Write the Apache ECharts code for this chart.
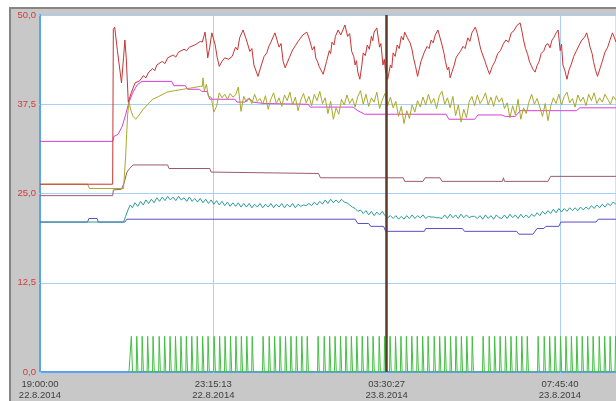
<!DOCTYPE html>
<html>
<head>
<meta charset="utf-8">
<script src="https://cdn.jsdelivr.net/npm/echarts@6/dist/echarts.min.js"></script>
<style>
  html, body { margin: 0; padding: 0; background: #fff; }
  #wrap { position: relative; width: 616px; height: 401px; overflow: hidden; background: #fff; }
  #frame { position: absolute; left: 9px; top: 7px; right: 0; bottom: 0; background: #c8c8c8;
           border-left: 2px solid #858585; border-top: 2px solid #858585; }
  #chart { position: absolute; left: 0; top: 0; width: 616px; height: 401px; }
</style>
</head>
<body>
<div id="wrap">
  <div id="frame"></div>
  <div id="chart"></div>
</div>
<script>
// time in minutes since 19:00:00 22.8.2014
const xStep = 15313.3333 / 60;   // one grid division = 4:15:13
const xMax = 848.2;
const xTickLabels = ['19:00:00\n22.8.2014', '23:15:13\n22.8.2014', '03:30:27\n23.8.2014', '07:45:40\n23.8.2014'];
const yTickLabels = ['0,0', '12,5', '25,0', '37,5', '50,0'];
const cursorTime = 509.5;

const redData = [[0,26.3],[107,26.3],[108,48],[110,48.3],[114,45],[120,40.5],[123,44],[125,46.5],[127,44],[130,37.8],
  [134,39],[140,40.5],[147,40.8],[152,41.5],[156,41.2],[160,42],[166,42.5],[169,42.2],[172,43],[180,43.5],[184,43.2],[188,44],
  [196,44.4],[200,44.1],[204,44.8],[212,45.2],[216,45],[220,45.5],[228,45.8],[236,46.3],[239,46.2],[243,47.6],[245,46],
  [247,44],[250,45.5],[253,47.5],[256,46.5],[258,45.8],[261,44],[264,42.8],[268,43.5],[272,44],[278,43.8],[283,44.2],
  [288,45.5],[291,45.1],[294,46.8],[299,47.9],[304,46.5],[309,44.9],[312,45.3],[315,43],[321,41.4],[326,43],[330,44.2],
  [334,44.7],[337,45.6],[340,46.2],[346,47.5],[352,45.5],[355,46],[358,43.5],[361,42.6],[367,44],[372,45.1],[376,45.7],
  [380,46.3],[387,47.2],[393,47.6],[397,46.5],[401,45.1],[404,45.6],[406,44],[409,43.4],[411,42.8],[417,41.7],[422,43.5],
  [426,45],[428,44.6],[430,46.2],[433,45.8],[435,47],[439,47.9],[443,47.2],[449,48.6],[453,47],[456,47.4],[459,44.9],
  [462,44.2],[464,43],[466,43.6],[468,42],[471,41],[474,43],[476,44.7],[479,44.3],[482,45.8],[485,45.2],[488,47],
  [490,46.4],[492,47.6],[496,48.2],[500,45.5],[502,46],[505,43],[507,43.8],[509,42],[512,41],[516,43],[518,42.6],
  [520,44.7],[523,44.2],[526,45.8],[529,45.3],[532,47],[535,46.5],[537,47.6],[541,46.8],[545,46.1],[548,45.1],[550,44],
  [553,42.8],[556,41.4],[561,43.5],[566,44.8],[570,45.6],[573,45.3],[576,46.5],[579,46.1],[582,47.2],[586,47.9],
  [590,46.5],[592,45.8],[595,44.6],[597,43.5],[600,42.3],[602,42.7],[604,41.2],[607,42.1],[610,43],[613,44.1],[616,44.5],
  [619,44.9],[623,45.6],[626,45.3],[630,46.8],[633,46.3],[636,47.5],[641,48.3],[644,47.4],[646,46.5],[649,45.2],
  [652,44.4],[655,43.6],[657,43],[660,42.2],[662,41.7],[666,42.8],[670,43.5],[674,44.6],[678,45],[682,45.9],[686,46.5],
  [690,46.2],[694,47.5],[698,47.8],[702,48.5],[707,48.9],[710,47.6],[712,46.5],[715,45.3],[718,44.5],[721,43.4],[723,43],
  [726,42.4],[729,42],[732,42.9],[735,43.5],[738,44.6],[742,45],[745,45.8],[748,46],[751,45.4],[754,46.5],[757,46.9],
  [760,47.5],[763,47.9],[766,45],[768,45.9],[770,43],[773,42.2],[776,41],[779,42.3],[782,43],[786,44.2],[790,45],
  [794,45.8],[798,46.5],[802,46.9],[805,47.5],[808,46.4],[810,45.5],[813,44.6],[815,43.5],[818,42.3],[821,41.4],
  [825,42.6],[828,43.5],[832,44.8],[836,45.5],[839,46.4],[843,47.5],[846,46.8],[848.2,46.2]];

const magentaData = [[0,32.3],[107,32.3],[109,33],[115,33.3],[121,34.4],[126,36],[131,37.8],[137,39.2],[143,40.2],
  [150,40.7],[194,40.7],[197,40.1],[214,40.1],[217,39.6],[235,39.6],[238,39.3],[246,39.3],[250,38.2],[287,38.2],
  [290,37.8],[302,37.8],[305,38.2],[310,38.2],[313,37.8],[330,37.6],[395,37.5],[398,37.1],[461,37.1],[468,36.6],
  [478,36.1],[598,36.1],[602,35.4],[640,35.4],[645,36],[680,36],[685,35.8],[700,35.8],[707,36.6],[790,36.6],
  [795,37],[848.2,37]];

const oliveHead = [[0,26.3],[70,26.3],[73,25.7],[123,25.7],[126,30],[129,36],[131,37.8],[134,36.6],[137,35.8],
  [141,35.4],[146,36],[152,36.8],[158,37.4],[166,38.2],[175,38.6],[187,39.2],[198,39.4],[211,39.6],[224,39.8],
  [236,40],[239,40],[240,41.2],[242,39.4],[245,40.3],[248,38.6]];
// noisy part, one sample every 4 minutes from 252
const oliveStart = 252, oliveEvery = 4;
const oliveNoise = [38.5,36.4,37.2,39.1,38.4,38.9,38.2,39.0,38.5,38.8,39.9,36.5,38.6,37.8,38.4,37.6,38.9,37.9,38.3,37.5,
  38.7,36.8,38.2,39.1,37.6,38.4,37.2,38.8,38.0,39.2,37.4,38.5,36.6,38.1,39.0,37.7,38.6,37.3,38.9,38.0,39.3,37.6,38.4,
  36.2,37.9,35.4,37.0,36.1,38.2,37.4,38.8,37.6,38.3,37.1,38.6,39.4,37.5,38.9,37.2,38.4,37.8,39.2,36.9,38.1,39.0,37.3,
  38.5,37.0,37.9,35.8,37.2,34.8,36.6,35.5,37.4,36.4,38.0,37.1,38.5,37.4,38.9,37.6,38.3,36.9,38.7,39.3,37.5,38.4,37.0,
  38.6,35.9,37.4,35.0,36.8,35.6,37.9,38.6,37.3,38.8,37.6,38.2,39.1,37.4,38.5,37.2,38.7,37.8,38.4,36.9,37.7,35.6,37.3,
  36.0,38.2,35.4,37.0,36.2,37.8,38.9,37.5,38.3,37.1,35.8,37.6,35.2,37.2,38.4,37.6,38.9,37.4,38.6,39.2,37.7,38.3,37.1,
  38.8,37.9,38.5,37.3,38.9,38.0,39.1,37.6,38.4,37.8,38.9,38.2,37.5,38.6,38.1];

const mauveData = [[0,24.7],[107,24.7],[108,25.5],[120,25.6],[124,26.5],[128,28],[132,28.5],[137,29],[188,29],
  [190,28.5],[250,28.5],[252,28],[410,27.8],[413,27.2],[535,27.2],[537,26.7],[564,26.7],[567,27.2],[589,27.2],
  [592,26.7],[681,26.7],[682.5,27.2],[684,26.7],[748,26.7],[752,27.4],[848.2,27.4]];

const tealHead = [[0,21],[123,21],[126,21.8],[130,22.8],[133,23.4]];
const tealStart = 136, tealEvery = 4;
const tealNoise = [23.0,23.7,23.2,23.9,23.4,24.1,23.6,24.2,23.7,24.4,23.9,24.5,24.0,24.6,24.1,24.5,24.0,24.6,24.1,24.4,
  23.9,24.5,23.9,24.3,23.8,24.3,23.7,24.2,23.6,24.1,23.5,24.0,23.4,23.9,23.3,23.8,23.2,23.7,23.2,23.7,23.1,23.6,23.1,
  23.6,23.0,23.5,23.1,23.6,23.0,23.5,23.1,23.6,23.0,23.5,23.1,23.6,23.0,23.5,23.1,23.6,23.0,23.5,23.2,23.4,23.3,23.6,
  23.3,23.8,23.4,23.9,23.5,24.1,23.6,24.2,23.7,24.1,23.7,24.2,23.8,23.7,23.4,23.1,22.9,22.5,22.7,22.2,22.6,22.0,22.5,
  21.9,22.4,22.0,22.5,21.9,21.6,21.9,21.5,21.9,21.4,21.8,21.4,21.9,21.5,22.0,21.5,21.9,21.6,22.0,21.5,21.8,21.7,21.7,
  21.6,21.6,21.5,22.0,21.5,22.1,21.6,22.0,21.5,22.1,21.6,22.0,21.6,21.8,21.8,21.5,21.9,21.4,22.0,21.5,21.9,21.4,22.0,
  21.6,21.5,22.0,21.5,22.1,21.6,22.0,21.5,22.1,21.6,22.0,21.6,22.1,21.8,22.3,21.9,22.5,22.1,22.6,22.2,22.8,22.3,22.9,
  22.4,22.9,22.5,23.0,22.6,23.0,22.6,23.1,22.7,23.1,22.8,23.3,22.9,23.4,23.0,23.5,23.1,23.6,23.3,23.8,23.5];

const purpleData = [[0,21],[70,21],[72,21.5],[84,21.5],[86,21],[125,21],[128,21.4],[464,21.4],[468,20.8],[484,20.8],
  [487,20.4],[506,20.4],[509,19.7],[566,19.7],[568,20.1],[622,20.1],[625,19.7],[702,19.7],[705,19.3],[726,19.3],
  [732,20.1],[742,20.1],[745,20.4],[764,20.4],[767,21],[819,21],[822,21.4],[848.2,21.4]];

// digital signal: pulse centres (minutes), pulse high value
const pulseTimes = [135,143,151,159,167,176,184,192,200,208,216,224,232,240,248,257,265,273,281,289,297,305,313,
  329,338,346,354,362,370,378,386,394,410,419,427,435,443,451,459,467,475,483,491,500,508,516,524,532,540,548,556,
  564,572,581,589,597,605,613,621,629,637,653,662,670,678,686,694,702,710,718,734,743,751,759,767,775,783,791,799,
  807,815,824,832,840,848];
const pulseHigh = 5;
const pulseFrom = 131;

const oliveData = oliveHead.concat(oliveNoise.map((v, i) => [oliveStart + i * oliveEvery, v]));
const tealData = tealHead.concat(tealNoise.map((v, i) => [tealStart + i * tealEvery, v]));
const greenData = [[pulseFrom, 0]];
pulseTimes.forEach(t => {
  greenData.push([t - 1.3, 0], [t - 0.5, pulseHigh], [t + 0.5, pulseHigh], [t + 1.3, 0]);
});
greenData.push([xMax, 0]);

function line(name, data, color) {
  return {
    name: name, type: 'line', data: data, showSymbol: false, symbol: 'none',
    lineStyle: { color: color, width: 1 }, itemStyle: { color: color }, silent: true
  };
}

const chart = echarts.init(document.getElementById('chart'));
const gridBlue = '#a9d0f3';
const axisBlue = '#5aa2f2';

const green = line('digital', greenData, '#42bf42');
green.markLine = {
  silent: true, symbol: 'none', label: { show: false },
  lineStyle: { color: '#5a3b2b', width: 2.5, type: 'solid' },
  data: [{ xAxis: cursorTime }]
};

chart.setOption({
  animation: false,
  grid: { left: 40, right: 0, top: 15, bottom: 26, show: true, backgroundColor: '#fff', borderColor: '#b4c0cc', borderWidth: 1 },
  xAxis: {
    type: 'value', min: 0, max: xMax, interval: xStep,
    axisLine: { onZero: false, lineStyle: { color: axisBlue, width: 2 } },
    axisTick: { show: true, length: 5, lineStyle: { color: gridBlue } },
    axisLabel: {
      showMaxLabel: false, color: '#404040', fontSize: 9.5, fontFamily: 'Liberation Sans, Arial, sans-serif',
      lineHeight: 11, margin: 7,
      formatter: (v, i) => xTickLabels[i] || ''
    },
    splitLine: { show: true, lineStyle: { color: gridBlue, width: 1 } }
  },
  yAxis: {
    type: 'value', min: 0, max: 50, interval: 12.5,
    axisLine: { show: true, lineStyle: { color: axisBlue, width: 2 } },
    axisTick: { show: true, length: 3, lineStyle: { color: gridBlue } },
    axisLabel: {
      color: '#d43a3a', fontSize: 9.5, fontFamily: 'Liberation Sans, Arial, sans-serif', margin: 4,
      formatter: (v, i) => yTickLabels[i]
    },
    splitLine: { show: true, lineStyle: { color: gridBlue, width: 1 } }
  },
  series: [
    line('purple', purpleData, '#5a4ec8'),
    line('teal', tealData, '#2a9c98'),
    line('mauve', mauveData, '#9c5a72'),
    line('magenta', magentaData, '#d83ed8'),
    line('olive', oliveData, '#a9a82a'),
    line('red', redData, '#c93434'),
    green
  ]
});
</script>
</body>
</html>
